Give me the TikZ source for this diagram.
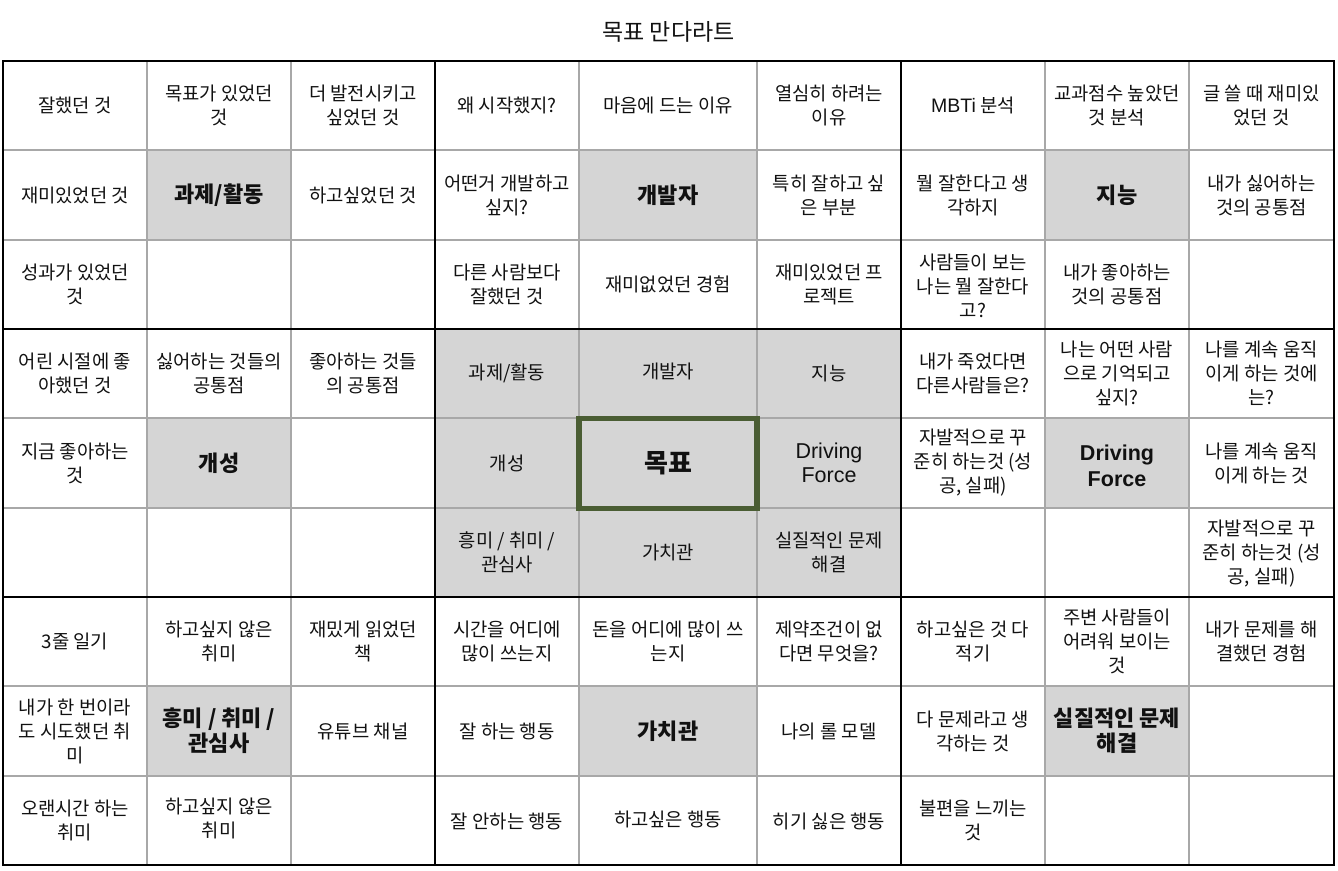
\documentclass[tikz,border=0pt]{standalone}
\usepackage{fontspec}
\setmainfont{Noto Sans CJK KR}
\newfontfamily\lat{Liberation Sans}
\definecolor{cellgray}{HTML}{D5D5D5}
\definecolor{linegray}{HTML}{A8A8A8}
\definecolor{goalgreen}{HTML}{4A5D33}
\definecolor{ink}{HTML}{111111}
\newcommand\hdfont{\fontsize{22}{25}\selectfont\bfseries\spaceskip 5pt plus 1pt\relax}
\tikzset{
  txt/.style={align=center, text=ink, inner sep=0pt, font=\fontsize{18.8}{24}\selectfont},
  hd/.style={txt, font=\hdfont},
  goalt/.style={txt, font=\fontsize{26}{28}\selectfont\bfseries},
  ttl/.style={txt, font=\fontsize{23}{26}\selectfont},
  thin/.style={draw=linegray, line width=1.8pt},
  thick/.style={draw=black, line width=2.5pt},
}
\begin{document}
\begin{tikzpicture}[x=1pt, y=-1pt]
\useasboundingbox (0,0) rectangle (1338,870);
% fills
\fill[cellgray] (435,329) rectangle (901,597);
\fill[cellgray] (147,150.3) rectangle (291,239.7);
\fill[cellgray] (579,150.3) rectangle (757,239.7);
\fill[cellgray] (1045,150.3) rectangle (1189,239.7);
\fill[cellgray] (147,418.3) rectangle (291,507.7);
\fill[cellgray] (1045,418.3) rectangle (1189,507.7);
\fill[cellgray] (147,686.3) rectangle (291,775.7);
\fill[cellgray] (579,686.3) rectangle (757,775.7);
\fill[cellgray] (1045,686.3) rectangle (1189,775.7);
% thin grid lines
\foreach \x in {147,291,579,757,1045,1189} \draw[thin] (\x,61) -- (\x,865);
\foreach \y in {150.3,239.7,418.3,507.7,686.3,775.7} \draw[thin] (3,\y) -- (1334,\y);
% thick block lines
\foreach \x in {435,901} \draw[thick] (\x,61) -- (\x,865);
\foreach \y in {329,597} \draw[thick] (3,\y) -- (1334,\y);
\draw[thick] (3,61) rectangle (1334,865);
% goal frame
\draw[draw=goalgreen, line width=5.5pt] (579,418.3) rectangle (757,508.3);
% title
\node[ttl] (title) at (668.5,32) {목표 만다라트};
% row 0
\node[txt] (r0c0) at (75,105.7) {잘했던 것};
\node[txt] (r0c1) at (219,105.7) {목표가 있었던\\것};
\node[txt] (r0c2) at (363,105.7) {더 발전시키고\\싶었던 것};
\node[txt] (r0c3) at (507,105.7) {왜 시작했지?};
\node[txt] (r0c4) at (668,105.7) {마음에 드는 이유};
\node[txt] (r0c5) at (829,105.7) {열심히 하려는\\이유};
\node[txt] (r0c6) at (973,105.7) {{\lat\fontsize{19.5}{24}\selectfont MBTi} 분석};
\node[txt] (r0c7) at (1117,105.7) {교과점수 높았던\\것 분석};
\node[txt] (r0c8) at (1261.5,105.7) {글 쓸 때 재미있\\었던 것};
% row 1
\node[txt] (r1c0) at (75,195) {재미있었던 것};
\node[hd] (r1c1) at (219,195) {과제/활동};
\node[txt] (r1c2) at (363,195) {하고싶었던 것};
\node[txt] (r1c3) at (507,195) {어떤거 개발하고\\싶지?};
\node[hd] (r1c4) at (668,195) {개발자};
\node[txt] (r1c5) at (829,195) {특히 잘하고 싶\\은 부분};
\node[txt] (r1c6) at (973,195) {뭘 잘한다고 생\\각하지};
\node[hd] (r1c7) at (1117,195) {지능};
\node[txt] (r1c8) at (1261.5,195) {내가 싫어하는\\것의 공통점};
% row 2
\node[txt] (r2c0) at (75,284.3) {성과가 있었던\\것};
\node[txt] (r2c3) at (507,284.3) {다른 사람보다\\잘했던 것};
\node[txt] (r2c4) at (668,284.3) {재미없었던 경험};
\node[txt] (r2c5) at (829,284.3) {재미있었던 프\\로젝트};
\node[txt] (r2c6) at (973,286) {사람들이 보는\\나는 뭘 잘한다\\고?};
\node[txt] (r2c7) at (1117,284.3) {내가 좋아하는\\것의 공통점};
% row 3
\node[txt] (r3c0) at (75,373.7) {어린 시절에 좋\\아했던 것};
\node[txt] (r3c1) at (219,373.7) {싫어하는 것들의\\공통점};
\node[txt] (r3c2) at (363,373.7) {좋아하는 것들\\의 공통점};
\node[txt] (r3c3) at (507,373.7) {과제/활동};
\node[txt] (r3c4) at (668,371.7) {개발자};
\node[txt] (r3c5) at (829,373.7) {지능};
\node[txt] (r3c6) at (973,373.7) {내가 죽었다면\\다른사람들은?};
\node[txt] (r3c7) at (1117,373.7) {나는 어떤 사람\\으로 기억되고\\싶지?};
\node[txt] (r3c8) at (1261.5,373.7) {나를 계속 움직\\이게 하는 것에\\는?};
% row 4
\node[txt] (r4c0) at (75,463) {지금 좋아하는\\것};
\node[hd] (r4c1) at (219,463) {개성};
\node[txt] (r4c3) at (507,463) {개성};
\node[goalt] (r4c4) at (668,463) {목표};
\node[txt, font=\lat\fontsize{21.5}{23.5}\selectfont] (r4c5) at (829,463) {Driving\\Force};
\node[txt] (r4c6) at (973,463) {자발적으로 꾸\\준히 하는것 (성\\공, 실패)};
\node[txt, font=\lat\fontsize{21.5}{26}\selectfont\bfseries] (r4c7) at (1117,466) {Driving\\Force};
\node[txt] (r4c8) at (1261.5,463) {나를 계속 움직\\이게 하는 것};
% row 5
\node[txt] (r5c3) at (507,552.3) {흥미 / 취미 /\\관심사};
\node[txt] (r5c4) at (668,552.3) {가치관};
\node[txt] (r5c5) at (829,552.3) {실질적인 문제\\해결};
\node[txt] (r5c8) at (1261.5,554) {자발적으로 꾸\\준히 하는것 (성\\공, 실패)};
% row 6
\node[txt] (r6c0) at (75,641.7) {3줄 일기};
\node[txt] (r6c1) at (219,641.7) {하고싶지 않은\\취미};
\node[txt] (r6c2) at (363,641.7) {재밌게 읽었던\\책};
\node[txt] (r6c3) at (507,641.7) {시간을 어디에\\많이 쓰는지};
\node[txt] (r6c4) at (668,641.7) {돈을 어디에 많이 쓰\\는지};
\node[txt] (r6c5) at (829,641.7) {제약조건이 없\\다면 무엇을?};
\node[txt] (r6c6) at (973,641.7) {하고싶은 것 다\\적기};
\node[txt] (r6c7) at (1117,641.7) {주변 사람들이\\어려워 보이는\\것};
\node[txt] (r6c8) at (1261.5,641.7) {내가 문제를 해\\결했던 경험};
% row 7
\node[txt] (r7c0) at (75,731) {내가 한 번이라\\도 시도했던 취\\미};
\node[hd] (r7c1) at (219,731) {흥미 / 취미 /\\관심사};
\node[txt] (r7c2) at (363,731) {유튜브 채널};
\node[txt] (r7c3) at (507,731) {잘 하는 행동};
\node[hd] (r7c4) at (668,731) {가치관};
\node[txt] (r7c5) at (829,731) {나의 롤 모델};
\node[txt] (r7c6) at (973,731) {다 문제라고 생\\각하는 것};
\node[hd] (r7c7) at (1117,731) {실질적인 문제\\해결};
% row 8
\node[txt] (r8c0) at (75,820.3) {오랜시간 하는\\취미};
\node[txt] (r8c1) at (219,818) {하고싶지 않은\\취미};
\node[txt] (r8c3) at (507,821.5) {잘 안하는 행동};
\node[txt] (r8c4) at (668,819.5) {하고싶은 행동};
\node[txt] (r8c5) at (829,821.5) {히기 싫은 행동};
\node[txt] (r8c6) at (973,820.3) {불편을 느끼는\\것};
\end{tikzpicture}
\end{document}
